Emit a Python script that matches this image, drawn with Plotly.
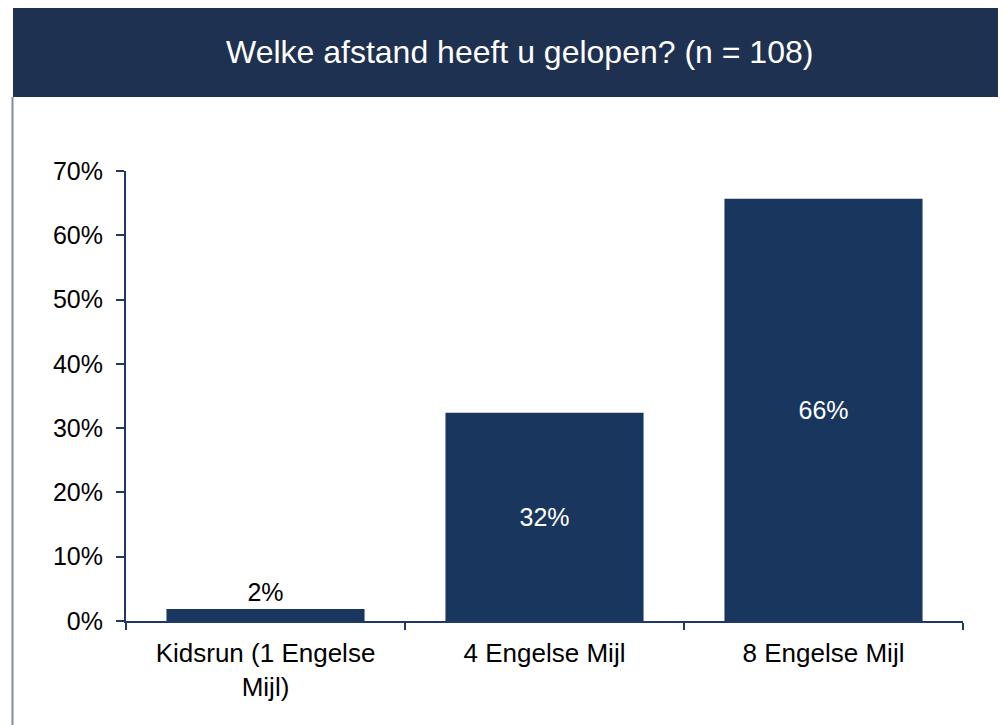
import plotly.graph_objects as go

categories = ["Kidsrun (1 Engelse<br>Mijl)", "4 Engelse Mijl", "8 Engelse Mijl"]
shares = [0.0185, 0.324, 0.657]
label_pos = ["outside", "inside", "inside"]
title_text = "Welke afstand heeft u gelopen? (n = 108)"

navy_bar = "#19375e"
navy_banner = "#1f3150"
axis_col = "#1f3864"
font_family = "Liberation Sans, Arial, sans-serif"

fig = go.Figure(
    go.Bar(
        x=categories,
        y=shares,
        marker=dict(color=navy_bar, line=dict(width=0)),
        texttemplate="%{y:.0%}",
        textposition=label_pos,
        insidetextanchor="middle",
        insidetextfont=dict(color="white", size=25, family=font_family),
        outsidetextfont=dict(color="black", size=25, family=font_family),
        cliponaxis=False,
    )
)

# the page adds an 8px body margin, so margins are offset by that
fig.update_layout(
    width=1006,
    height=725,
    margin=dict(l=118, r=51, t=163, b=112),
    paper_bgcolor="white",
    plot_bgcolor="white",
    bargap=0.29,
    showlegend=False,
    font=dict(family=font_family, size=25, color="black"),
)

fig.update_yaxes(
    range=[0, 0.7],
    dtick=0.1,
    tickformat=".0%",
    showgrid=False,
    zeroline=False,
    showline=True,
    linecolor=axis_col,
    linewidth=2,
    ticks="outside",
    ticklen=8,
    tickwidth=2,
    tickcolor=axis_col,
    ticklabelstandoff=8,
)
fig.update_xaxes(
    showgrid=False,
    showline=True,
    linecolor=axis_col,
    linewidth=2,
    ticks="outside",
    tickson="boundaries",
    ticklen=7,
    tickwidth=2,
    tickcolor=axis_col,
    tickfont=dict(size=26),
    ticklabelstandoff=8,
)

# title banner across the top
fig.add_shape(
    type="rect", xref="paper", yref="paper",
    x0=-0.135, x1=1.07, y0=1.1644, y1=1.38,
    fillcolor=navy_banner, line=dict(width=0), layer="below",
)
# thin frame line down the left side
fig.add_shape(
    type="line", xref="paper", yref="paper",
    x0=-0.1356, x1=-0.1356, y0=-0.26, y1=1.1644,
    line=dict(color="#7f8ea6", width=2),
)
fig.add_annotation(
    text=title_text, xref="paper", yref="paper",
    x=0.47, y=1.264, showarrow=False,
    xanchor="center", yanchor="middle",
    font=dict(color="white", size=32, family=font_family),
)

fig.write_html("out.html")
